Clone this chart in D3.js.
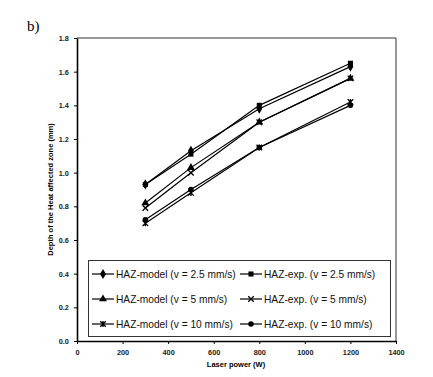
<!DOCTYPE html>
<html>
<head>
<meta charset="utf-8">
<script src="https://cdn.jsdelivr.net/npm/d3@7"></script>
<style>
  body { margin: 0; background: #fff; }
  text { font-family: "Liberation Sans", Arial, sans-serif; }
</style>
</head>
<body>
<div id="chart"></div>
<script>
// data
const power = [300, 500, 800, 1200];
const modelV25 = [0.93, 1.13, 1.38, 1.63];
const expV25 = [0.93, 1.11, 1.40, 1.65];
const modelV5 = [0.82, 1.03, 1.30, 1.56];
const expV5 = [0.79, 1.00, 1.30, 1.56];
const modelV10 = [0.70, 0.88, 1.15, 1.42];
const expV10 = [0.72, 0.90, 1.15, 1.40];
const seriesNames = [
    "HAZ-model (v = 2.5 mm/s)", "HAZ-exp. (v = 2.5 mm/s)",
    "HAZ-model (v = 5 mm/s)", "HAZ-exp. (v = 5 mm/s)",
    "HAZ-model (v = 10 mm/s)", "HAZ-exp. (v = 10 mm/s)"
];
const seriesMarkers = ["diamond", "square", "triangle", "cross", "star", "circle"];
const xTicks = [0, 200, 400, 600, 800, 1000, 1200, 1400];
const yTicks = [0.0, 0.2, 0.4, 0.6, 0.8, 1.0, 1.2, 1.4, 1.6, 1.8];

const svgWidth = 433, svgHeight = 377;
const plotLeft = 77, plotRight = 396, plotTop = 38, plotBottom = 341;

let series = [modelV25, expV25, modelV5, expV5, modelV10, expV10].map((vals, i) => ({
    name: seriesNames[i],
    marker: seriesMarkers[i],
    points: vals.map((v, j) => ({x: power[j], y: v}))
}));

let svg = d3.select("#chart")
    .append("svg")
    .attr("width", svgWidth)
    .attr("height", svgHeight);

let x = d3.scaleLinear().domain([0, 1400]).range([plotLeft, plotRight]);
let y = d3.scaleLinear().domain([0, 1.8]).range([plotBottom, plotTop]);

// figure label
svg.append("text")
    .attr("x", 27)
    .attr("y", 31)
    .style("font-family", "'Liberation Serif', 'Times New Roman', serif")
    .style("font-size", "15px")
    .text("b)");

// plot frame (top and right)
svg.append("path")
    .attr("d", `M${plotLeft},${plotTop}H${plotRight}V${plotBottom}`)
    .attr("fill", "none")
    .attr("stroke", "#333")
    .attr("stroke-width", 1);

// axes
let xAxis = d3.axisBottom(x).tickValues(xTicks).tickSize(3).tickSizeOuter(0).tickFormat(d3.format("d"));
let yAxis = d3.axisLeft(y).tickValues(yTicks).tickSize(3).tickSizeOuter(0).tickFormat(d3.format(".1f"));

let gx = svg.append("g").attr("transform", `translate(0,${plotBottom})`).call(xAxis);
let gy = svg.append("g").attr("transform", `translate(${plotLeft},0)`).call(yAxis);
[gx, gy].forEach(g => {
    g.select(".domain").attr("stroke", "#000").attr("stroke-width", 1.6);
    g.selectAll(".tick line").attr("stroke", "#000");
    g.selectAll(".tick text")
        .style("font-family", "'Liberation Sans', Arial, sans-serif")
        .style("font-size", "7.3px")
        .style("font-weight", "bold")
        .attr("fill", "#222");
});
gx.selectAll(".tick text").attr("dy", "1.1em");
gy.selectAll(".tick text").attr("dx", "-0.3em");

svg.append("text")
    .attr("x", 236)
    .attr("y", 367)
    .attr("text-anchor", "middle")
    .style("font-size", "7.5px")
    .style("font-weight", "bold")
    .text("Laser power (W)");

svg.append("text")
    .attr("transform", `translate(53,${(plotTop + plotBottom) / 2}) rotate(-90)`)
    .attr("text-anchor", "middle")
    .style("font-size", "7.5px")
    .style("font-weight", "bold")
    .text("Depth of the Heat affected zone (mm)");

function draw_marker(g, type, size) {
    if (type === "cross" || type === "star") {
        let s = size * 0.5;
        let d = `M${-s},${-s}L${s},${s}M${-s},${s}L${s},${-s}`;
        if (type === "star") d += `M0,${-s * 1.1}V${s * 1.1}`;
        g.append("path").attr("d", d).attr("stroke", "#000").attr("stroke-width", 1.3).attr("fill", "none");
        return;
    }
    let sym = {diamond: d3.symbolDiamond, square: d3.symbolSquare, triangle: d3.symbolTriangle, circle: d3.symbolCircle}[type];
    let area = {diamond: 1.0, square: 0.85, triangle: 0.9, circle: 0.8}[type] * size * size;
    g.append("path").attr("d", d3.symbol().type(sym).size(area)()).attr("fill", "#000");
}

let line = d3.line().x(d => x(d.x)).y(d => y(d.y));

let groups = svg.selectAll("g.series")
    .data(series)
    .enter()
    .append("g")
    .attr("class", "series");

groups.append("path")
    .attr("d", d => line(d.points))
    .attr("fill", "none")
    .attr("stroke", "#000")
    .attr("stroke-width", 1.2);

groups.each(function (s) {
    let g = d3.select(this);
    s.points.forEach(p => {
        let m = g.append("g").attr("transform", `translate(${x(p.x)},${y(p.y)})`);
        draw_marker(m, s.marker, 5.5);
    });
});

// legend
let legend = svg.append("g");
legend.append("rect")
    .attr("x", 88.5)
    .attr("y", 260.5)
    .attr("width", 302)
    .attr("height", 76)
    .attr("fill", "#fff")
    .attr("stroke", "#333")
    .attr("stroke-width", 1);

let colX = [92, 240];
let rowY = [274, 299, 324];
series.forEach((s, i) => {
    let cx = colX[i % 2], cy = rowY[Math.floor(i / 2)];
    let item = legend.append("g").attr("transform", `translate(${cx},${cy})`);
    item.append("line").attr("x1", 0).attr("x2", 22).attr("y1", 0).attr("y2", 0)
        .attr("stroke", "#000").attr("stroke-width", 1.2);
    draw_marker(item.append("g").attr("transform", "translate(11,0)"), s.marker, 5.5);
    item.append("text")
        .attr("x", 24)
        .attr("y", 0)
        .attr("dy", "0.36em")
        .style("font-size", "10.2px")
        .attr("fill", "#111")
        .text(s.name);
});
</script>
</body>
</html>
